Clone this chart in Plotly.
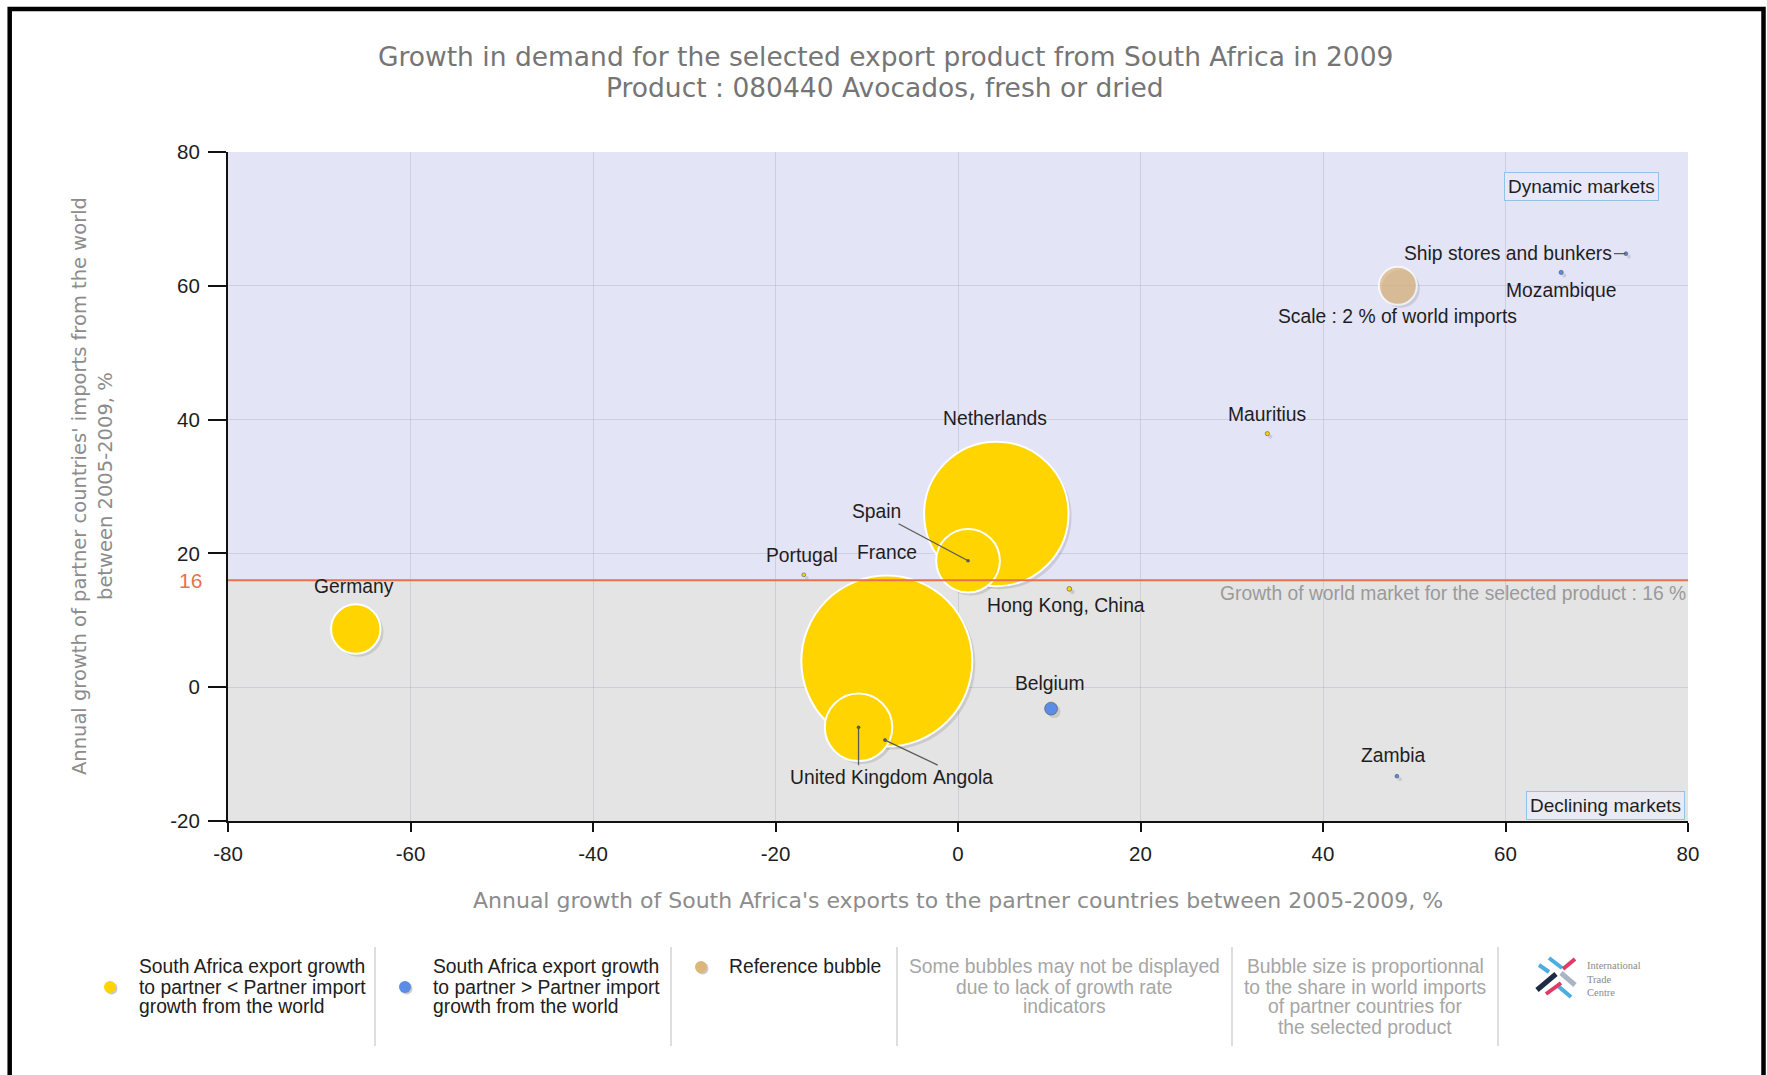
import plotly.graph_objects as go

# ---- data -------------------------------------------------------------
countries = ["France", "Netherlands", "United Kingdom", "Spain", "Germany", "Belgium",
             "Hong Kong, China", "Mauritius", "Mozambique", "Portugal",
             "Ship stores and bunkers", "Zambia", "Angola"]
# annual growth of South Africa's exports to the partner, 2005-2009 (%)
export_growth = [-7.8, 4.2, -10.9, 1.1, -66.0, 10.2, 12.2, 33.9, 66.1, -16.9, 73.2, 48.1, -8.0]
# annual growth of the partner's imports from the world, 2005-2009 (%)
import_growth = [3.9, 25.9, -6.0, 18.9, 8.7, -3.2, 14.7, 37.9, 62.0, 16.8, 64.8, -13.3, -7.9]
# partner share in world imports of the product (%)
world_share = [9.0, 7.6, 3.55, 3.35, 2.6, 0.68, 0.25, 0.22, 0.22, 0.2, 0.2, 0.2, 0.15]

world_growth = 16          # growth of world market for the product (%)
reference_share = 2        # reference bubble (% of world imports)
reference_pos = (48.2, 60)

x_ticks = [-80, -60, -40, -20, 0, 20, 40, 60, 80]
y_ticks = [-20, 0, 20, 40, 60, 80]

# ---- styling ------------------------------------------------------------
W, H = 1767, 1075
ML, MR, MT, MB = 228, 79, 152, 254
PW, PH = W - ML - MR, H - MT - MB
PX_PER_SHARE = 19          # bubble diameter in px per % of world imports

YELLOW, BLUE, TAN = "#FFD400", "#5B8CE6", "#DDB67A"
LAVENDER, GREY_BG = "#E4E4F7", "#E4E4E4"
SANS = "Liberation Sans, Arial"
VERDANA = "DejaVu Sans, Verdana"
LABEL_FONT = dict(family=SANS, size=19.3, color="#1E1E1E")


def fx(px):
    return (px - ML) / PW


def fy(py):
    return (H - MB - py) / PH


def page_text(px, py, text, font, xanchor="center", **kw):
    """Text placed at a pixel position of the page."""
    return dict(x=fx(px), y=fy(py), xref="paper", yref="paper", text=text,
                showarrow=False, xanchor=xanchor, yanchor="middle", font=font, **kw)


colors = [YELLOW if ex < im else BLUE for ex, im in zip(export_growth, import_growth)]
rims = ["white" if s >= 1 else "rgba(90,90,90,0.8)" for s in world_share]
rim_w = [2 if s >= 1 else 0.8 for s in world_share]

# shadow offset (3 px right / 3 px down) expressed in axis units
sx, sy = 3 * 160 / PW, -3 * 100 / PH

fig = go.Figure()

fig.add_trace(go.Scatter(
    x=[v + sx for v in export_growth] + [reference_pos[0] + sx],
    y=[v + sy for v in import_growth] + [reference_pos[1] + sy],
    mode="markers", hoverinfo="skip", showlegend=False,
    marker=dict(size=world_share + [reference_share], sizemode="diameter",
                sizeref=1 / PX_PER_SHARE, color="rgba(60,60,60,0.22)",
                line=dict(width=0)),
))

fig.add_trace(go.Scatter(
    x=export_growth, y=import_growth, text=countries, mode="markers",
    showlegend=False,
    marker=dict(size=world_share, sizemode="diameter", sizeref=1 / PX_PER_SHARE,
                color=colors, opacity=1, line=dict(color=rims, width=rim_w)),
    hovertemplate="%{text}<br>x: %{x}%<br>y: %{y}%<extra></extra>",
))

fig.add_trace(go.Scatter(
    x=[reference_pos[0]], y=[reference_pos[1]], mode="markers", showlegend=False,
    marker=dict(size=[reference_share], sizemode="diameter", sizeref=1 / PX_PER_SHARE,
                color=TAN, line=dict(color="white", width=2)),
    hoverinfo="skip",
))

annotations = []

# plain labels: offset (px right, px up) from the bubble centre
label_offsets = {
    "Netherlands": (-1, 95), "France": (0, 109), "Germany": (-2, 43),
    "Belgium": (-1, 25), "Portugal": (-2, 19), "Hong Kong, China": (-3, -17),
    "Mauritius": (0, 19), "Mozambique": (0, -18), "Zambia": (-3, 21),
}
# labels joined to their point by a leader line: (px right, px up)
leader_offsets = {"Spain": (-92, 49), "United Kingdom": (0, -50), "Angola": (78, -37)}

for name, ex, im in zip(countries, export_growth, import_growth):
    if name in label_offsets:
        dx, dy = label_offsets[name]
        annotations.append(dict(x=ex, y=im, text=name, showarrow=False,
                                xshift=dx, yshift=dy, font=LABEL_FONT))
    elif name in leader_offsets:
        dx, dy = leader_offsets[name]
        annotations.append(dict(x=ex, y=im, text=name, showarrow=True, ax=dx, ay=-dy,
                                arrowhead=6, arrowsize=0.7, arrowwidth=1.3,
                                arrowcolor="#5A5A5A", font=LABEL_FONT))
    elif name == "Ship stores and bunkers":
        annotations.append(dict(x=ex, y=im, text=name, showarrow=True, ax=-12, ay=0,
                                xanchor="right", arrowhead=0, arrowwidth=1.3,
                                arrowcolor="#5A5A5A", font=LABEL_FONT))

annotations.append(dict(x=reference_pos[0], y=reference_pos[1],
                        text=f"Scale : {reference_share} % of world imports",
                        showarrow=False, yshift=-31, font=LABEL_FONT))

# quadrant captions
box = dict(bordercolor="#8EC4EA", borderwidth=1, borderpad=3)
box_font = dict(family=SANS, size=19, color="#1E1E1E")
annotations.append(page_text(1581, 186, "Dynamic markets", box_font,
                             bgcolor="#E8E8FA", **box))
annotations.append(page_text(1605, 805, "Declining markets", box_font,
                             bgcolor="#EAEAF2", **box))

annotations.append(dict(x=fx(1688), y=world_growth, xref="paper", yref="y",
                        xanchor="right", yanchor="middle", yshift=-13, showarrow=False,
                        text=f"Growth of world market for the selected product : {world_growth} %",
                        font=dict(family=SANS, size=19.3, color="#9A9A9A")))
annotations.append(dict(x=0, y=world_growth, xref="paper", yref="y", xanchor="right",
                        yanchor="middle", xshift=-24, showarrow=False, text=str(world_growth),
                        font=dict(family=SANS, size=21, color="#E8734F")))

# titles
title_font = dict(family=VERDANA, size=26.5, color="#757575")
annotations.append(page_text(885, 56, "Growth in demand for the selected export product "
                             "from South Africa in 2009", title_font))
annotations.append(page_text(885, 87, "Product : 080440 Avocados, fresh or dried", title_font))

axis_title_font = dict(family=VERDANA, size=22, color="#8C8C8C")
annotations.append(page_text(958, 900, "Annual growth of South Africa's exports to the "
                             "partner countries between 2005-2009, %", axis_title_font))
y_title_font = {**axis_title_font, "size": 19.5}
annotations.append(page_text(79, 486, "Annual growth of partner countries' imports from the world",
                             y_title_font, textangle=-90))
annotations.append(page_text(105, 486, "between 2005-2009, %", y_title_font, textangle=-90))

# ---- bottom legend ----------------------------------------------------
legend_dark = dict(family=SANS, size=19.3, color="#202020")
legend_light = dict(family=SANS, size=19.3, color="#A6A6A6")
line_y = [967, 987, 1007, 1027]

legend_blocks = [
    (137, "left", ["South Africa export growth", "to partner < Partner import",
                   "growth from the world"], legend_dark),
    (431, "left", ["South Africa export growth", "to partner > Partner import",
                   "growth from the world"], legend_dark),
    (727, "left", ["Reference bubble"], legend_dark),
    (1064, "center", ["Some bubbles may not be displayed", "due to lack of growth rate",
                      "indicators"], legend_light),
    (1365, "center", ["Bubble size is proportionnal", "to the share in world imports",
                      "of partner countries for", "the selected product"], legend_light),
]
for xpos, anchor, lines, font in legend_blocks:
    for i, line in enumerate(lines):
        annotations.append(page_text(xpos, line_y[i], line, font, xanchor=anchor))

annotations.append(page_text(1585, 979, "International<br>Trade<br>Centre",
                             dict(family="Liberation Serif, Times New Roman", size=10.5,
                                  color="#8A8A8A"), xanchor="left", align="left"))

shapes = [
    # market regions split at the world growth rate
    dict(type="rect", xref="x", yref="y", x0=-80, x1=80, y0=world_growth, y1=80,
         fillcolor=LAVENDER, line=dict(width=0), layer="below"),
    dict(type="rect", xref="x", yref="y", x0=-80, x1=80, y0=-20, y1=world_growth,
         fillcolor=GREY_BG, line=dict(width=0), layer="below"),
    dict(type="line", xref="x", yref="y", x0=-80, x1=80, y0=world_growth, y1=world_growth,
         line=dict(color="#E8704C", width=2)),
    # page frame
    dict(type="rect", xref="paper", yref="paper", x0=fx(9.7), x1=fx(1763.5),
         y0=fy(1120), y1=fy(9), line=dict(color="black", width=4.5)),
]

for sep in [375, 671, 897, 1232, 1498]:
    shapes.append(dict(type="line", xref="paper", yref="paper", x0=fx(sep), x1=fx(sep),
                       y0=fy(947), y1=fy(1046), line=dict(color="#BDBDBD", width=1)))

for cx, cy, col in [(110, 987, YELLOW), (405, 987, BLUE), (701, 967, TAN)]:
    for off, c in [(1.5, "rgba(80,80,80,0.3)"), (0, col)]:
        shapes.append(dict(type="circle", xref="paper", yref="paper",
                           xsizemode="pixel", ysizemode="pixel",
                           xanchor=fx(cx + off), yanchor=fy(cy + off),
                           x0=-6, x1=6, y0=-6, y1=6, fillcolor=c, line=dict(width=0)))

# ITC logo strokes
logo = [
    ((1549, 958), (1562, 968), "#4AAEE0", 4), ((1539, 965), (1549, 972), "#4AAEE0", 4),
    ((1561, 973), (1575, 985), "#A9B4C4", 5), ((1558, 986), (1571, 997), "#4AAEE0", 4),
    ((1563, 969), (1575, 959), "#E23A66", 4), ((1537, 990), (1556, 974), "#1D2B47", 5),
    ((1546, 994), (1561, 983), "#E23A66", 4),
]
for (x0, y0), (x1, y1), c, w in logo:
    shapes.append(dict(type="line", xref="paper", yref="paper", x0=fx(x0), y0=fy(y0),
                       x1=fx(x1), y1=fy(y1), line=dict(color=c, width=w)))

tick_font = dict(family=SANS, size=20.5, color="#1E1E1E")
grid = "rgba(150,150,175,0.28)"
fig.update_layout(
    width=W, height=H, margin=dict(l=ML, r=MR, t=MT, b=MB),
    paper_bgcolor="white", plot_bgcolor="white",
    showlegend=False, annotations=annotations, shapes=shapes,
    xaxis=dict(range=[-80, 80], tickvals=x_ticks, ticktext=[str(v) for v in x_ticks],
               ticks="outside", ticklen=9, tickwidth=1.5, tickcolor="#111",
               showline=True, linecolor="#111", linewidth=2, showgrid=True,
               gridcolor=grid, gridwidth=1, zeroline=False, tickfont=tick_font,
               ticklabelstandoff=4, fixedrange=True),
    yaxis=dict(range=[-20, 80], tickvals=y_ticks, ticktext=[str(v) for v in y_ticks],
               ticks="outside", ticklen=18, tickwidth=1.5, tickcolor="#111",
               showline=True, linecolor="#111", linewidth=2, showgrid=True,
               gridcolor=grid, gridwidth=1, zeroline=False, tickfont=tick_font,
               ticklabelstandoff=4, fixedrange=True),
)

fig.write_html("out.html")
